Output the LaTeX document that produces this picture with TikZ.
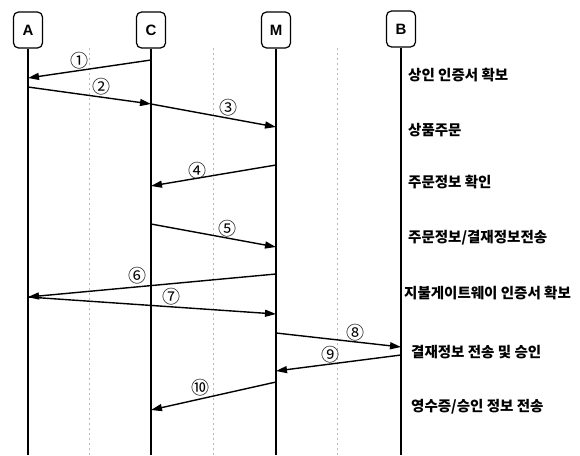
\documentclass[tikz,border=0pt]{standalone}
\usepackage{fontspec}
\setmainfont{Liberation Sans}
\newfontfamily\kr{Noto Sans CJK KR}
\usetikzlibrary{arrows.meta}
\tikzset{
  actor/.style={draw, line width=1.2pt, rounded corners=5pt, minimum width=29pt, minimum height=36pt, font=\bfseries\fontsize{15}{15}\selectfont, inner sep=0pt},
  life/.style={line width=1.1pt},
  guide/.style={gray!55, line width=0.6pt, dash pattern=on 2pt off 3pt},
  msg/.style={line width=1.4pt, -{Triangle[length=11pt,width=7pt]}},
  num/.style={font=\kr\fontsize{18}{18}\selectfont, inner sep=0pt},
  note/.style={font=\kr\bfseries\fontsize{14.5}{14.5}\selectfont, anchor=west, inner sep=0pt}
}
\begin{document}
\begin{tikzpicture}[x=1pt,y=-1pt]
\useasboundingbox (0,0) rectangle (580,455);
% actors
\node[actor] (A) at (28,30) {A};
\node[actor] (C) at (151,30) {C};
\node[actor] (M) at (276,30) {M};
\node[actor] (B) at (401,29) {B};
% lifeline ends
\coordinate (Ae) at (28,455);
\coordinate (Ce) at (151,455);
\coordinate (Me) at (276,455);
\coordinate (Be) at (401,455);
\draw[life, line width=1.6pt] (A.south) -- (Ae);
\draw[life] (C.south) -- (Ce);
\draw[life] (M.south) -- (Me);
\draw[life, line width=1.5pt] (B.south) -- (Be);
% guides
\coordinate (g1t) at (89,48); \coordinate (g1b) at (89,455);
\coordinate (g2t) at (213,48); \coordinate (g2b) at (213,455);
\coordinate (g3t) at (337,48); \coordinate (g3b) at (337,455);
\draw[guide] (g1t) -- (g1b);
\draw[guide] (g2t) -- (g2b);
\draw[guide] (g3t) -- (g3b);
% message points
\coordinate (c1) at (151,60);  \coordinate (a1) at (28,78);
\coordinate (a2) at (28,87);   \coordinate (c2) at (151,104);
\coordinate (m3) at (276,127);
\coordinate (m4) at (276,165); \coordinate (c4) at (151,186);
\coordinate (c5) at (151,224); \coordinate (m5) at (276,247);
\coordinate (m6) at (276,274); \coordinate (a6) at (28,297);
\coordinate (a7) at (28,297);  \coordinate (m7) at (276,314);
\coordinate (m8) at (276,333); \coordinate (b8) at (401,347);
\coordinate (b9) at (401,355); \coordinate (m9) at (276,371);
\coordinate (m10) at (276,382); \coordinate (c10) at (151,410);
\draw[msg] (c1) -- (a1);
\draw[msg] (a2) -- (c2);
\draw[msg] (c2) -- (m3);
\draw[msg] (m4) -- (c4);
\draw[msg] (c5) -- (m5);
\draw[msg] (m6) -- (a6);
\draw[msg] (a7) -- (m7);
\draw[msg] (m8) -- (b8);
\draw[msg] (b9) -- (m9);
\draw[msg] (m10) -- (c10);
% numbers
\node[num] (n1) at (79,61) {①};
\node[num] (n2) at (101,87) {②};
\node[num] (n3) at (228,108) {③};
\node[num] (n4) at (197,171) {④};
\node[num] (n5) at (227,229) {⑤};
\node[num] (n6) at (137,276) {⑥};
\node[num] (n7) at (171,297) {⑦};
\node[num] (n8) at (355,333) {⑧};
\node[num] (n9) at (330,355) {⑨};
\node[num] (n10) at (200,388) {⑩};
% notes
\node[note] (t1) at (408,75) {상인 인증서 확보};
\node[note] (t2) at (408,130) {상품주문};
\node[note] (t3) at (408,182) {주문정보 확인};
\node[note] (t4) at (408,238) {주문정보/결재정보전송};
\node[note] (t5) at (404,293) {지불게이트웨이 인증서 확보};
\node[note] (t6) at (411,352) {결재정보 전송 및 승인};
\node[note] (t7) at (411,407) {영수증/승인 정보 전송};
\end{tikzpicture}
\end{document}
